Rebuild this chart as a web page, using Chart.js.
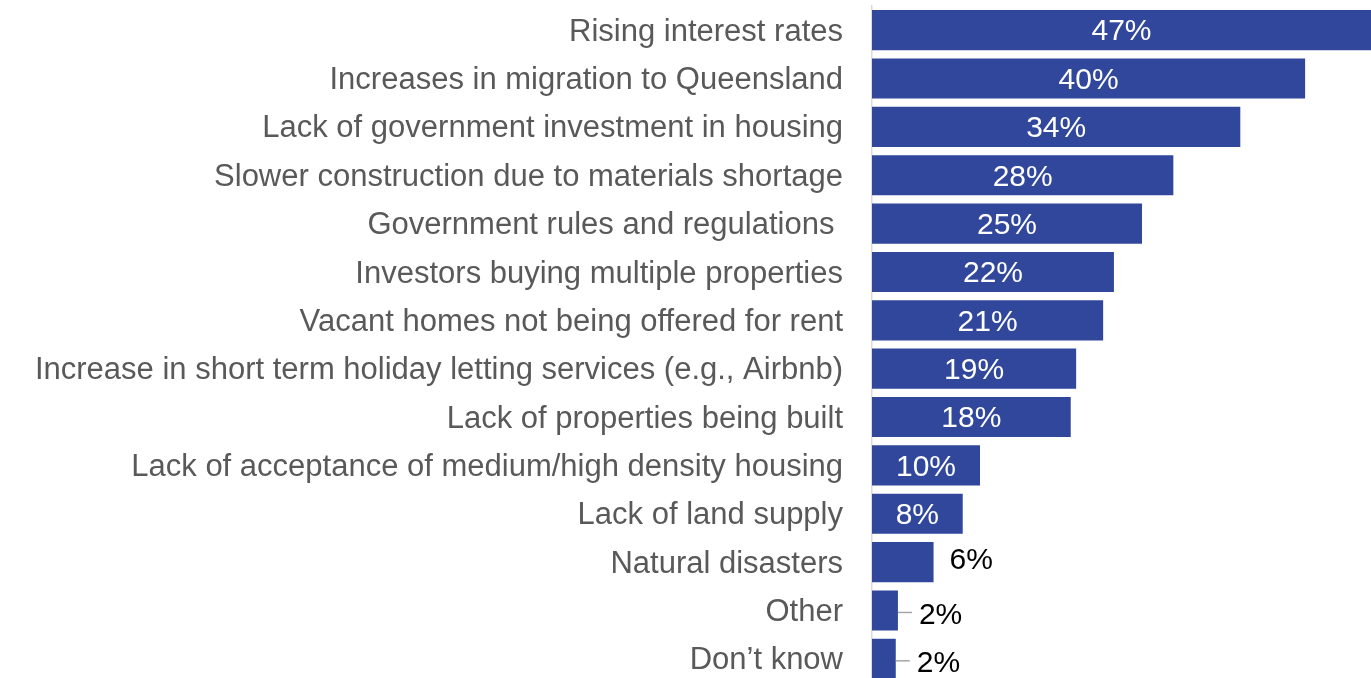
<!DOCTYPE html>
<html>
<head>
<meta charset="utf-8">
<script src="https://cdn.jsdelivr.net/npm/chart.js@4/dist/chart.umd.min.js"></script>
<style>
html,body{margin:0;padding:0;background:#fff;overflow:hidden;}
#wrap{width:1371px;height:678px;position:relative;overflow:hidden;}
</style>
</head>
<body>
<div id="wrap"><canvas id="c" width="1371" height="683"></canvas></div>
<script>
const categories = [
  "Rising interest rates",
  "Increases in migration to Queensland",
  "Lack of government investment in housing",
  "Slower construction due to materials shortage",
  "Government rules and regulations ",
  "Investors buying multiple properties",
  "Vacant homes not being offered for rent",
  "Increase in short term holiday letting services (e.g., Airbnb)",
  "Lack of properties being built",
  "Lack of acceptance of medium/high density housing",
  "Lack of land supply",
  "Natural disasters",
  "Other",
  "Don\u2019t know"
];
const values = [46.9, 40.1, 34.1, 27.9, 25.0, 22.4, 21.4, 18.9, 18.4, 10.0, 8.4, 5.7, 2.4, 2.2];
const valueLabels = ["47%", "40%", "34%", "28%", "25%", "22%", "21%", "19%", "18%", "10%", "8%", "6%", "2%", "2%"];
const xMax = 46.2;

const FONT = "'Liberation Sans', Arial, sans-serif";
const BAR_COLOR = "#30479C";

const valueLabelPlugin = {
  id: 'valueLabels',
  afterDatasetsDraw(chart) {
    const ctx = chart.ctx;
    const area = chart.chartArea;
    const meta = chart.getDatasetMeta(0);
    ctx.save();
    ctx.font = "30px " + FONT;
    ctx.textBaseline = "middle";
    meta.data.forEach((bar, i) => {
      const v = values[i];
      const txt = valueLabels[i];
      const right = Math.min(bar.x, area.right);
      if (v >= 7) {
        ctx.fillStyle = "#FFFFFF";
        ctx.textAlign = "center";
        ctx.fillText(txt, (bar.base + right) / 2, bar.y + 2);
      } else if (v >= 3) {
        ctx.fillStyle = "#000000";
        ctx.textAlign = "left";
        ctx.fillText(txt, right + 16, bar.y - 1);
      } else {
        ctx.strokeStyle = "#A6A6A6";
        ctx.lineWidth = 1.5;
        ctx.beginPath();
        ctx.moveTo(right, bar.y + 2);
        ctx.lineTo(right + 14, bar.y + 2);
        ctx.stroke();
        ctx.fillStyle = "#000000";
        ctx.textAlign = "left";
        ctx.fillText(txt, right + 21, bar.y + 5);
      }
    });
    ctx.restore();
  }
};

new Chart(document.getElementById('c'), {
  type: 'bar',
  data: {
    labels: categories,
    datasets: [{
      data: values,
      backgroundColor: BAR_COLOR,
      borderWidth: 0,
      barPercentage: 0.83,
      categoryPercentage: 1.0
    }]
  },
  options: {
    indexAxis: 'y',
    responsive: false,
    animation: false,
    devicePixelRatio: 1,
    layout: { padding: { top: 6, bottom: 0, left: 0, right: 0 } },
    plugins: { legend: { display: false }, tooltip: { enabled: false } },
    scales: {
      x: {
        display: false,
        min: 0,
        max: xMax
      },
      y: {
        afterFit(scale) {
          scale.width = 872;
          scale.paddingTop = 0;
          scale.paddingBottom = 0;
        },
        grid: { display: false, drawTicks: false },
        border: { display: true, color: "#D9D9D9", width: 1.5 },
        ticks: {
          padding: 29,
          labelOffset: 2,
          color: "#595959",
          font: { family: FONT, size: 31 },
          autoSkip: false
        }
      }
    }
  },
  plugins: [valueLabelPlugin]
});
</script>
</body>
</html>
